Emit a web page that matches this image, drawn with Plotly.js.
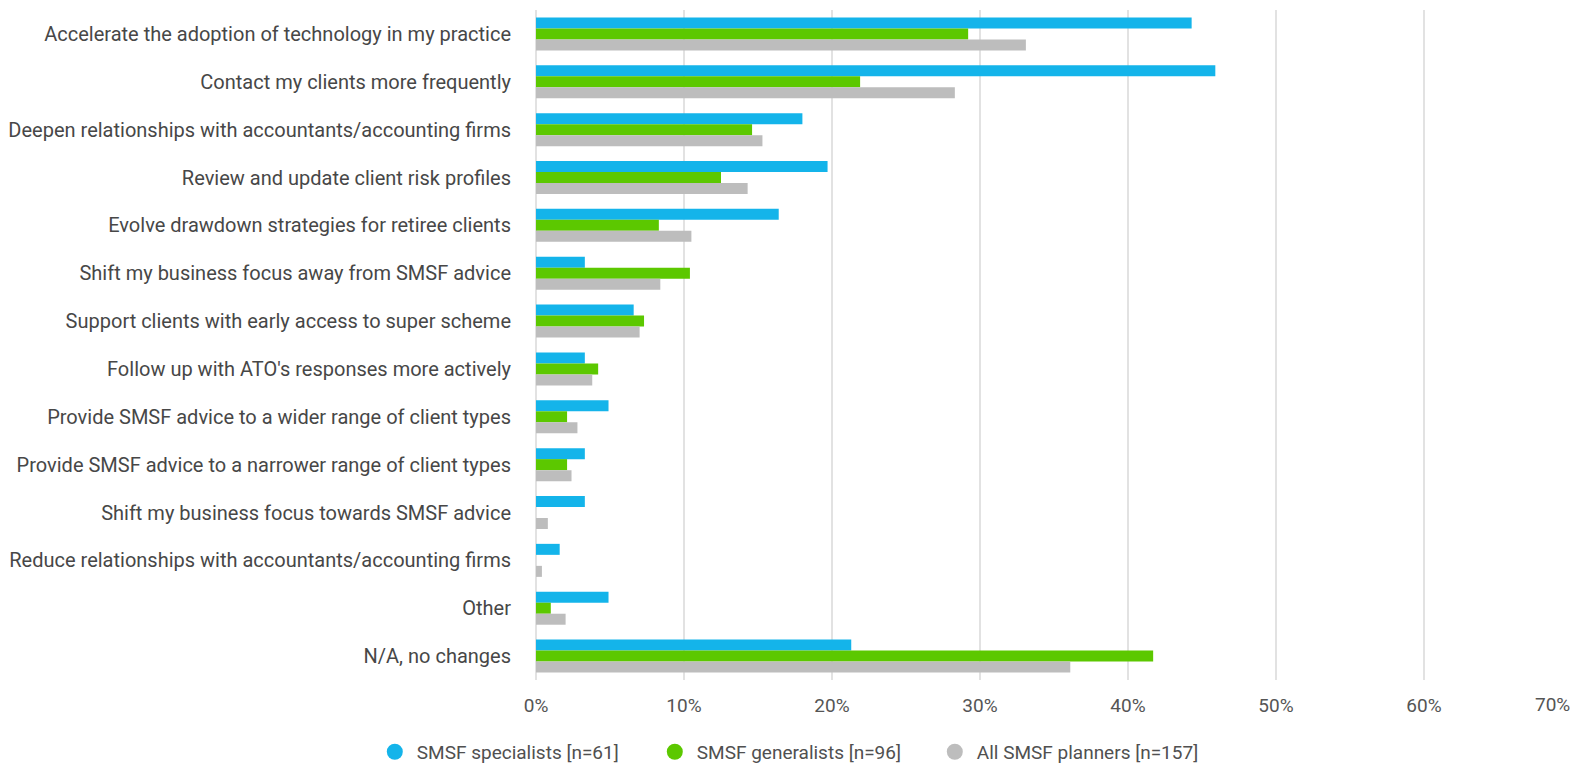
<!DOCTYPE html>
<html>
<head>
<meta charset="utf-8">
<script src="https://cdn.plot.ly/plotly-3.0.1.min.js"></script>
<style>html,body{margin:0;padding:0;background:#fff;}#chart{width:1573px;height:768px;}</style>
</head>
<body>
<div id="chart"></div>
<script>
const categories = [
  "Accelerate the adoption of technology in my practice",
  "Contact my clients more frequently",
  "Deepen relationships with accountants/accounting firms",
  "Review and update client risk profiles",
  "Evolve drawdown strategies for retiree clients",
  "Shift my business focus away from SMSF advice",
  "Support clients with early access to super scheme",
  "Follow up with ATO's responses more actively",
  "Provide SMSF advice to a wider range of client types",
  "Provide SMSF advice to a narrower range of client types",
  "Shift my business focus towards SMSF advice",
  "Reduce relationships with accountants/accounting firms",
  "Other",
  "N/A, no changes"
];
const specialists = [44.3, 45.9, 18.0, 19.7, 16.4, 3.3, 6.6, 3.3, 4.9, 3.3, 3.3, 1.6, 4.9, 21.3];
const generalists = [29.2, 21.9, 14.6, 12.5, 8.3, 10.4, 7.3, 4.2, 2.1, 2.1, 0, 0, 1.0, 41.7];
const allPlanners = [33.1, 28.3, 15.3, 14.3, 10.5, 8.4, 7.0, 3.8, 2.8, 2.4, 0.8, 0.4, 2.0, 36.1];
const seriesNames = ["SMSF specialists [n=61]", "SMSF generalists [n=96]", "All SMSF planners [n=157]"];
const colors = ["#14b4ea", "#5cc800", "#bdbdbd"];
const xTickVals = [0, 10, 20, 30, 40, 50, 60, 70];
const xTickText = ["0%", "10%", "20%", "30%", "40%", "50%", "60%", "70%"];

const seriesValues = [specialists, generalists, allPlanners];
const traces = [];
seriesValues.forEach((vals, i) => {
  traces.push({
    type: "bar", orientation: "h",
    y: categories, x: vals, name: seriesNames[i],
    marker: {color: colors[i]},
    showlegend: false,
    hoverinfo: "x+y"
  });
});
seriesValues.forEach((vals, i) => {
  traces.push({
    type: "scatter", mode: "markers",
    x: [null], y: [null], name: seriesNames[i],
    marker: {color: colors[i], size: 16, symbol: "circle"},
    showlegend: true
  });
});

// the last tick label sits at the right edge; draw it right-aligned to its gridline
const lastIdx = xTickVals.length - 1;
const shownTickText = xTickText.map((t, i) => i === lastIdx ? "" : t);

const layout = {
  width: 1573, height: 768,
  margin: {l: 536, r: 1, t: 10, b: 88},
  paper_bgcolor: "#ffffff", plot_bgcolor: "#ffffff",
  font: {family: "Roboto, sans-serif", size: 20, color: "#474747"},
  barmode: "group",
  bargap: 0.31,
  bargroupgap: 0,
  xaxis: {
    range: [0, 70],
    tickvals: xTickVals, ticktext: shownTickText,
    showgrid: true, gridcolor: "#e2e2e2", gridwidth: 1.5,
    zeroline: true, zerolinecolor: "#e2e2e2", zerolinewidth: 1.5,
    showline: false,
    ticks: "", ticklabelstandoff: 12,
    tickfont: {size: 19, color: "#555555"},
    fixedrange: true
  },
  yaxis: {
    autorange: "reversed",
    type: "category",
    showgrid: false, zeroline: false, showline: false,
    ticks: "", ticklabelstandoff: 24,
    tickfont: {size: 20, color: "#474747"},
    fixedrange: true
  },
  annotations: [{
    xref: "x", yref: "paper",
    x: xTickVals[lastIdx], y: 0,
    xanchor: "right", yanchor: "top",
    yshift: -11,
    text: xTickText[lastIdx],
    showarrow: false,
    font: {size: 19, color: "#555555"}
  }],
  legend: {
    orientation: "h",
    xref: "container", yref: "container",
    x: 0.237, xanchor: "left",
    y: 0.021, yanchor: "middle",
    font: {size: 19, color: "#505050"},
    itemwidth: 34,
    entrywidth: 231,
    entrywidthmode: "pixels",
    tracegroupgap: 0
  }
};

Plotly.newPlot("chart", traces, layout, {displayModeBar: false, staticPlot: true});
</script>
</body>
</html>
